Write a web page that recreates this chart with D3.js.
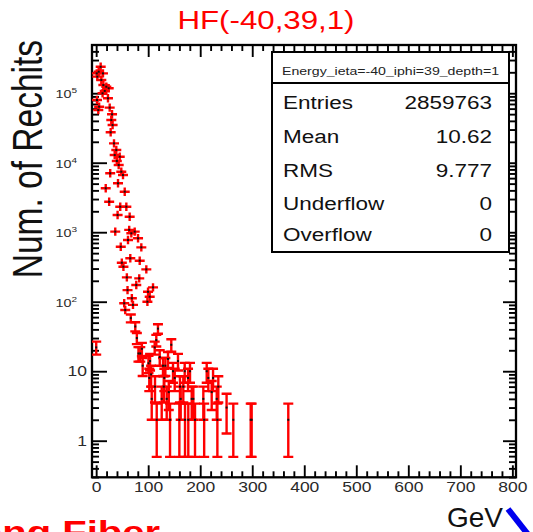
<!DOCTYPE html>
<html>
<head>
<meta charset="utf-8">
<script src="https://cdn.jsdelivr.net/npm/d3@7"></script>
<style>
  html, body { margin: 0; padding: 0; background: #fff; }
  svg { display: block; }
  text { font-family: "Liberation Sans", Arial, Helvetica, sans-serif; }
</style>
</head>
<body>
<svg id="chart" width="533" height="532"></svg>
<script>
// ---- histogram contents: bin energy (GeV) and number of rechits ----
const binEnergy = [
  2.2, 1.1, 4.9, 8.7, 9.9, 13.1, 13.8, 12.3, 19.5, 24.1, 16.5, 22.7, 1.6, 5.7, 4.1,
  26.0, 30.5, 29.1, 31.6, 27.9, 34.3, 38.7, 35.6, 45.3, 39.7, 43.3, 48.3, 27.0,
  51.6, 42.0, 18.4, 54.9, 25.0, 46.3, 58.0, 41.2, 64.4, 36.7, 63.5, 67.6, 74.1,
  61.2, 80.5, 47.3, 86.8, 65.6, 49.3, 83.7, 52.4, 96.4, 59.0, 82.8, 77.1, 109.3,
  60.3, 99.7, 68.6, 102.9, 53.9, 70.8, 98.5, 55.9, 66.6, 75.2, 118.8, 78.2, 115.6, 0.1,
  87.9, 112.5, 144.4, 84.8, 122.2, 138.1, 157.3, 100.6, 89.4, 128.5, 147.7, 170.2,
  105.6, 131.0, 176.6, 151.0, 224.7, 81.3, 103.6, 133.0, 180.4, 215.6, 234.8, 102.1, 130.0,
  161.1, 113.1, 139.6, 167.5, 183.7, 222.1, 212.5,
  106.8, 126.0, 135.6, 162.5, 186.8, 206.0, 231.8, 250.7,
  116.4, 142.0, 159.9, 170.8, 177.1, 190.0, 207.6, 233.0, 263.6, 297.1, 298.9, 369.3
];
const binCount = [
  173000, 193000, 204000, 240000, 155000, 193000, 131000, 99700, 124000, 118000, 108000, 84500, 79800, 64000, 57300,
  62000, 49700, 41100, 34800, 27400, 19000, 15200, 12900, 12200, 10600, 9270, 7430, 7040,
  6650, 5060, 4290, 3830, 2750, 2330, 2330, 1770, 1670, 1020, 1080, 964, 1020,
  773, 817, 618, 606, 421, 364, 389, 319, 292, 224, 217, 174, 161,
  147, 139, 112, 118, 95, 90, 100, 76, 58, 44, 41, 30, 28, 22,
  21, 22, 24, 18, 16, 15, 14, 13, 12, 12, 10, 10,
  9, 8, 8, 8, 8, 18, 14, 12, 10, 8, 6, 8, 6,
  6, 6, 5, 6, 4, 5, 10,
  4, 4, 4, 4, 4, 4, 4, 3,
  2, 2, 2, 2, 2, 2, 2, 2, 2, 2, 2, 2
];

// ---- axes ----
const xRange = [-8, 807];
const yRange = [0.2975, 494000];
const xMajorTicks = [0, 100, 200, 300, 400, 500, 600, 700, 800];
const xTickLabels = ["0", "100", "200", "300", "400", "500", "600", "700", "800"];
const yMajorTicks = [1, 10, 100, 1000, 10000, 100000];
const yTickBase = ["1", "10", "10", "10", "10", "10"];
const yTickExponent = ["", "", "2", "3", "4", "5"];

// ---- texts ----
const histTitle = "HF(-40,39,1)";
const yTitle = "Num. of Rechits";
const xTitle = "GeV";
const statTitle = "Energy_ieta=-40_iphi=39_depth=1";
const statLabels = ["Entries", "Mean", "RMS", "Underflow", "Overflow"];
const statValues = ["2859763", "10.62", "9.777", "0", "0"];
const footNote = "Long Fiber";

const SX = 1.25;              // horizontal glyph stretch of the canvas
const frame = { left: 92, right: 516, top: 45, bottom: 477.3 };
const RED = "#ff0000";

const svg = d3.select("#chart");

const xs = d3.scaleLinear().domain(xRange).range([frame.left, frame.right]);
const ys = d3.scaleLog().domain(yRange).range([frame.bottom, frame.top]);

// minor tick positions
const xMinorTicks = d3.range(0, 801, 20).filter(v => v % 100 !== 0);
const yMinorTicks = [];
for (let p = -1; p <= 5; p++) {
  for (let k = 2; k <= 9; k++) {
    const v = k * Math.pow(10, p);
    if (v > yRange[0] && v < yRange[1]) yMinorTicks.push(v);
  }
}

function tickAxis(axis, tx, ty) {
  const g = svg.append("g").attr("transform", `translate(${tx},${ty})`).call(axis);
  g.select(".domain").remove();
  g.selectAll(".tick line").attr("stroke", "#000").attr("stroke-width", 1.9);
  return g;
}

// bottom axis (ticks pointing into the frame) with labels
const xAxisG = tickAxis(
  d3.axisBottom(xs).tickValues(xMajorTicks).tickSize(-12).tickPadding(5)
    .tickFormat((d, i) => xTickLabels[i]),
  0, frame.bottom);
xAxisG.attr("font-size", 14).attr("font-family", "'Liberation Sans', Arial, sans-serif");
xAxisG.selectAll(".tick text").attr("fill", "#2a2a2a").attr("transform", `scale(${SX},1)`);
tickAxis(d3.axisBottom(xs).tickValues(xMinorTicks).tickSize(-6).tickFormat(""), 0, frame.bottom);

// top axis mirror ticks
tickAxis(d3.axisTop(xs).tickValues(xMajorTicks).tickSize(-12).tickFormat(""), 0, frame.top);
tickAxis(d3.axisTop(xs).tickValues(xMinorTicks).tickSize(-6).tickFormat(""), 0, frame.top);

// left axis
tickAxis(d3.axisLeft(ys).tickValues(yMajorTicks).tickSize(-15).tickFormat(""), frame.left, 0);
tickAxis(d3.axisLeft(ys).tickValues(yMinorTicks).tickSize(-7).tickFormat(""), frame.left, 0);

// right axis mirror ticks
tickAxis(d3.axisRight(ys).tickValues(yMajorTicks).tickSize(-13).tickFormat(""), frame.right, 0);
tickAxis(d3.axisRight(ys).tickValues(yMinorTicks).tickSize(-7).tickFormat(""), frame.right, 0);

// y tick labels (powers of ten)
const yLab = svg.append("g").attr("fill", "#2a2a2a");
yMajorTicks.forEach((v, i) => {
  const y = ys(v);
  if (yTickExponent[i] === "") {
    yLab.append("text")
      .attr("transform", `translate(87,${y + 5}) scale(${SX},1)`)
      .attr("text-anchor", "end").attr("font-size", 14)
      .text(yTickBase[i]);
  } else {
    const t = yLab.append("text")
      .attr("transform", `translate(77,${y + 5}) scale(${SX},1)`)
      .attr("text-anchor", "end").attr("font-size", 11.5);
    t.append("tspan").text(yTickBase[i]);
    t.append("tspan").attr("font-size", 8).attr("dy", -5).text(yTickExponent[i]);
  }
});

// frame
svg.append("rect")
  .attr("x", frame.left).attr("y", frame.top)
  .attr("width", frame.right - frame.left).attr("height", frame.bottom - frame.top)
  .attr("fill", "none").attr("stroke", "#000").attr("stroke-width", 2.3);

// data: error bars with end caps, small crosses where the error is tiny
svg.append("clipPath").attr("id", "frameClip").append("rect")
  .attr("x", frame.left).attr("y", frame.top)
  .attr("width", frame.right - frame.left).attr("height", frame.bottom - frame.top);

const bins = binEnergy.map((e, i) => ({ e, v: binCount[i] }));
const capHalf = 5, armHalf = 4.2;

const marks = svg.append("g").attr("clip-path", "url(#frameClip)")
  .attr("stroke", RED).attr("stroke-width", 2.4).attr("fill", "none");

marks.selectAll("g.bin").data(bins).join("g").attr("class", "bin")
  .each(function (d) {
    const g = d3.select(this);
    const cx = xs(d.e), cy = ys(d.v), err = Math.sqrt(d.v);
    const yUp = ys(d.v + err);
    const lo = d.v - err;
    const yDn = lo > 0 ? ys(lo) : frame.bottom + 5;
    const ext = Math.max(cy - yUp, yDn - cy);
    if (ext < 4) {
      g.append("line").attr("x1", cx - capHalf).attr("x2", cx + capHalf).attr("y1", cy).attr("y2", cy);
      g.append("line").attr("x1", cx).attr("x2", cx).attr("y1", cy - armHalf).attr("y2", cy + armHalf);
    } else {
      g.append("line").attr("x1", cx).attr("x2", cx).attr("y1", yUp).attr("y2", yDn);
      g.append("line").attr("x1", cx - capHalf).attr("x2", cx + capHalf).attr("y1", yUp).attr("y2", yUp);
      g.append("line").attr("x1", cx - capHalf).attr("x2", cx + capHalf).attr("y1", yDn).attr("y2", yDn);
    }
  });

svg.append("g").attr("clip-path", "url(#frameClip)")
  .selectAll("rect").data(bins).join("rect")
  .attr("x", d => xs(d.e) - 1).attr("y", d => ys(d.v) - 1)
  .attr("width", 2).attr("height", 2).attr("fill", "#111");

// statistics box
const box = { x: 272, y: 52, w: 237, h: 200, head: 31 };
const sb = svg.append("g");
sb.append("rect").attr("x", box.x).attr("y", box.y).attr("width", box.w).attr("height", box.h)
  .attr("fill", "#fff").attr("stroke", "#000").attr("stroke-width", 2);
sb.append("line").attr("x1", box.x).attr("x2", box.x + box.w)
  .attr("y1", box.y + box.head).attr("y2", box.y + box.head)
  .attr("stroke", "#000").attr("stroke-width", 2);
sb.append("text")
  .attr("transform", `translate(${box.x + box.w / 2},${box.y + 23}) scale(${SX},1)`)
  .attr("text-anchor", "middle").attr("font-size", 11.3).attr("fill", "#222")
  .text(statTitle);
const rowBase = [108.5, 142.5, 176.5, 209.5, 241];
statLabels.forEach((lab, i) => {
  sb.append("text")
    .attr("transform", `translate(283,${rowBase[i]}) scale(${SX},1)`)
    .attr("font-size", 18).attr("fill", "#111").text(lab);
  sb.append("text")
    .attr("transform", `translate(492,${rowBase[i]}) scale(${SX},1)`)
    .attr("text-anchor", "end").attr("font-size", 18).attr("fill", "#111").text(statValues[i]);
});

// titles
svg.append("text")
  .attr("transform", `translate(266,29) scale(${SX},1)`)
  .attr("text-anchor", "middle").attr("font-size", 25).attr("fill", RED)
  .text(histTitle);

svg.append("text")
  .attr("transform", `translate(42,40) scale(${SX},1) rotate(-90)`)
  .attr("text-anchor", "end").attr("font-size", 33.5).attr("fill", "#111")
  .text(yTitle);

svg.append("text")
  .attr("transform", "translate(503,527)")
  .attr("text-anchor", "end").attr("font-size", 28).attr("fill", "#111")
  .text(xTitle);

// page decorations below the plot
svg.append("text")
  .attr("transform", `translate(160,543) scale(${SX},1)`)
  .attr("text-anchor", "end").attr("font-size", 32).attr("font-weight", "bold")
  .attr("fill", RED).text(footNote);

svg.append("line")
  .attr("x1", 508).attr("y1", 509).attr("x2", 530).attr("y2", 537)
  .attr("stroke", "#0000ee").attr("stroke-width", 6).attr("stroke-linecap", "butt");
</script>
</body>
</html>
